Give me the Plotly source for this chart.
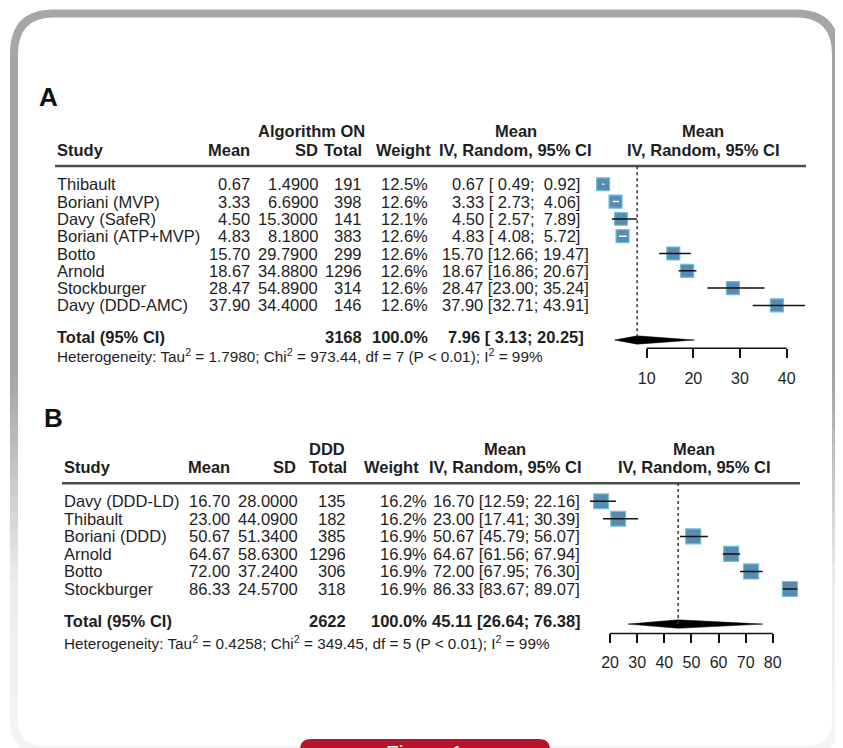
import plotly.graph_objects as go

# ---------------- data ----------------
studies_a = ["Thibault", "Boriani (MVP)", "Davy (SafeR)", "Boriani (ATP+MVP)",
             "Botto", "Arnold", "Stockburger", "Davy (DDD-AMC)"]
mean_a = [0.67, 3.33, 4.50, 4.83, 15.70, 18.67, 28.47, 37.90]
sd_a = [1.4900, 6.6900, 15.3000, 8.1800, 29.7900, 34.8800, 54.8900, 34.4000]
n_a = [191, 398, 141, 383, 299, 1296, 314, 146]
w_a = [12.5, 12.6, 12.1, 12.6, 12.6, 12.6, 12.6, 12.6]
lo_a = [0.49, 2.73, 2.57, 4.08, 12.66, 16.86, 23.00, 32.71]
hi_a = [0.92, 4.06, 7.89, 5.72, 19.47, 20.67, 35.24, 43.91]
total_a = [3168, 100.0, 7.96, 3.13, 20.25]          # N, weight, mean, lo, hi
het_a = ["1.7980", "973.44", "7", "0.01", "99"]     # tau2, chi2, df, p, I2
ticks_a = [10, 20, 30, 40]
group_a = "Algorithm ON"

studies_b = ["Davy (DDD-LD)", "Thibault", "Boriani (DDD)", "Arnold", "Botto", "Stockburger"]
mean_b = [16.70, 23.00, 50.67, 64.67, 72.00, 86.33]
sd_b = [28.0000, 44.0900, 51.3400, 58.6300, 37.2400, 24.5700]
n_b = [135, 182, 385, 1296, 306, 318]
w_b = [16.2, 16.2, 16.9, 16.9, 16.9, 16.9]
lo_b = [12.59, 17.41, 45.79, 61.56, 67.95, 83.67]
hi_b = [22.16, 30.39, 56.07, 67.94, 76.30, 89.07]
total_b = [2622, 100.0, 45.11, 26.64, 76.38]
het_b = ["0.4258", "349.45", "5", "0.01", "99"]
ticks_b = [20, 30, 40, 50, 60, 70, 80]
group_b = "DDD"

col_headers = ["Study", "Mean", "SD", "Total", "Weight", "Mean", "IV, Random, 95% CI"]

# ---------------- layout helpers ----------------
W, H = 843, 748
OFF = 8          # page body margin offset
FONT = "Liberation Sans, Arial, Helvetica, sans-serif"
TXT = "#1e1e1e"
NB = "\u00a0"
FS = 16.5


def px(x):
    return (x - OFF) / W


def py(y):
    return 1 - (y - OFF) / H


def P(x, y):
    return f"{px(x):.5f},{py(y):.5f}"


fig = go.Figure()
annotations = []
shapes = []


def ann(text, x, y, xanchor="left", yref="paper", size=FS, bold=False, color=TXT):
    if bold:
        text = f"<b>{text}</b>"
    annotations.append(dict(
        text=text, x=px(x), y=(py(y) if yref == "paper" else y),
        xref="paper", yref=yref, xanchor=xanchor, yanchor="middle",
        showarrow=False, font=dict(family=FONT, size=size, color=color)))


def ci_str(m, l, h):
    s = f"{m:.2f} [{l:5.2f}; {h:5.2f}]"
    return s.replace(" ", NB)


def het_str(h):
    return (f"Heterogeneity: Tau<sup>2</sup> = {h[0]}; Chi<sup>2</sup> = {h[1]}, "
            f"df = {h[2]} (P &lt; {h[3]}); I<sup>2</sup> = {h[4]}%")


def panel(letter, letter_pos, studies, mean, sd, n, w, lo, hi, total, het, ticks, group,
          xref, yr, cols, hdr, line_y, line_x, het_y, scale, box_k):
    ann(letter, letter_pos[0], letter_pos[1], bold=True, size=26, color="#111111")
    x_study, x_mean, x_sd, x_tot, x_w, x_ci = cols
    h_mean, h_sd, h_tot, h_w, h_ci, h_plot, x_group = hdr
    y1, y2 = line_y[0], line_y[1]
    # headers
    ann(group, x_group, y1, "center", bold=True)
    ann(col_headers[5], h_ci, y1, "center", bold=True)
    ann(col_headers[5], h_plot, y1, "center", bold=True)
    ann(col_headers[0], x_study, y2, "left", bold=True)
    ann(col_headers[1], h_mean, y2, "right", bold=True)
    ann(col_headers[2], h_sd, y2, "right", bold=True)
    ann(col_headers[3], h_tot, y2, "right", bold=True)
    ann(col_headers[4], h_w, y2, "right", bold=True)
    ann(col_headers[6], h_ci, y2, "center", bold=True)
    ann(col_headers[6], h_plot, y2, "center", bold=True)
    shapes.append(dict(type="line", xref="paper", yref="paper",
                       x0=px(line_x[0]), x1=px(line_x[1]), y0=py(line_y[2]), y1=py(line_y[2]),
                       line=dict(color="#4d4d4d", width=2.5)))
    rows = list(range(len(studies)))
    for i in rows:
        ann(studies[i], x_study, i, "left", yref=yr)
        ann(f"{mean[i]:.2f}", x_mean, i, "right", yref=yr)
        ann(f"{sd[i]:.4f}", x_sd, i, "right", yref=yr)
        ann(f"{n[i]}", x_tot, i, "right", yref=yr)
        ann(f"{w[i]:.1f}%", x_w, i, "right", yref=yr)
        ann(ci_str(mean[i], lo[i], hi[i]), x_ci, i, "center", yref=yr)
    trow = len(studies) + 1
    ty = trow - 0.15
    ann("Total (95% CI)", x_study, ty, "left", yref=yr, bold=True)
    ann(f"{total[0]}", x_tot, ty, "right", yref=yr, bold=True)
    ann(f"{total[1]:.1f}%", x_w, ty, "right", yref=yr, bold=True)
    ann(ci_str(total[2], total[3], total[4]), x_ci, ty, "center", yref=yr, bold=True)
    ann(het_str(het), x_study, het_y, "left", size=15.3)

    # dotted line at pooled estimate
    shapes.append(dict(type="line", xref=xref, yref=yr, x0=total[2], x1=total[2],
                       y0=-1.05, y1=trow, line=dict(color="#333333", width=1.5, dash="dot")))
    # axis baseline between first and last tick
    shapes.append(dict(type="line", xref=xref, yref=yr + " domain", x0=ticks[0], x1=ticks[-1],
                       y0=0, y1=0, line=dict(color="#111111", width=1.5)))
    sizes = [box_k * (wi ** 0.5) for wi in w]
    fig.add_trace(go.Scatter(
        x=mean, y=rows, mode="markers", xaxis=xref, yaxis=yr,
        marker=dict(symbol="square", size=sizes, color="#125a92",
                    line=dict(color="#36a4c8", width=1.2)),
        hoverinfo="skip"))
    bx, by, wx, wy = [], [], [], []
    for i in rows:
        inside = (hi[i] - lo[i]) * scale < 0.8 * sizes[i]
        tx, tyy = (wx, wy) if inside else (bx, by)
        tx += [lo[i], hi[i], None]
        tyy += [i, i, None]
    fig.add_trace(go.Scatter(x=bx, y=by, mode="lines", xaxis=xref, yaxis=yr,
                             line=dict(color="#111111", width=1.5), hoverinfo="skip"))
    fig.add_trace(go.Scatter(x=wx, y=wy, mode="lines", xaxis=xref, yaxis=yr,
                             line=dict(color="#ffffff", width=1.5), hoverinfo="skip"))
    hd = 0.24
    fig.add_trace(go.Scatter(
        x=[total[3], total[2], total[4], total[2], total[3]],
        y=[trow, trow - hd, trow, trow + hd, trow],
        mode="lines", fill="toself", fillcolor="#000000",
        line=dict(color="#000000", width=0.5), xaxis=xref, yaxis=yr, hoverinfo="skip"))


# Panel A geometry: value 0 at 600px, 4.667 px/unit; row0 at 184.3px, 17.3 px/row
sa, za, ra0, ra = 4.667, 600.0, 184.3, 17.3
xa_rng = [-1, 45]
ya_rng = [9.48, -1.5]
# Panel B geometry: value 0 at 555.8px, 2.712 px/unit; row0 at 501.3px, 17.54 px/row
sb, zb, rb0, rb = 2.712, 555.8, 501.3, 17.54
xb_rng = [8, 96]
yb_rng = [7.53, -1.5]

panel("A", (37, 97), studies_a, mean_a, sd_a, n_a, w_a, lo_a, hi_a, total_a, het_a,
      ticks_a, group_a, "x", "y",
      cols=(55, 252, 320, 364, 430, 516),
      hdr=(252, 320, 364, 433, 516, 703, 311),
      line_y=(131, 150, 166), line_x=(55, 806), het_y=355, scale=sa, box_k=3.66)
panel("B", (42, 418), studies_b, mean_b, sd_b, n_b, w_b, lo_b, hi_b, total_b, het_b,
      ticks_b, group_b, "x2", "y2",
      cols=(61.7, 232, 300, 348, 429, 506),
      hdr=(232, 298, 349, 421, 505, 694, 327),
      line_y=(449, 467, 483.3), line_x=(62, 800), het_y=642, scale=sb, box_k=3.66)


def dom_x(rng, zero, s):
    return [px(zero + rng[0] * s), px(zero + rng[1] * s)]


def dom_y(rng, r0, r):
    return sorted([py(r0 + rng[0] * r), py(r0 + rng[1] * r)])


# ---------------- frame decoration ----------------
GRAY_TOP = (166, 166, 169)
GRAY_MID = (236, 236, 238)
GRAY_BOT = (244, 244, 246)


def col_at(y):
    if y <= 380:
        c = GRAY_TOP
    elif y <= 580:
        t = (y - 380) / 200
        c = tuple(GRAY_TOP[k] + (GRAY_MID[k] - GRAY_TOP[k]) * t for k in range(3))
    else:
        t = min(1, (y - 580) / 140)
        c = tuple(GRAY_MID[k] + (GRAY_BOT[k] - GRAY_MID[k]) * t for k in range(3))
    return "rgb(%d,%d,%d)" % tuple(int(v) for v in c)


fw = 8
shapes.append(dict(type="path", xref="paper", yref="paper",
                   path=f"M {P(14, 54)} Q {P(14, 13.5)} {P(54, 13.5)} L {P(796, 13.5)} "
                        f"Q {P(836, 13.5)} {P(836, 54)}",
                   line=dict(color=col_at(0), width=fw)))
y0 = 54
while y0 < 720:
    y1 = min(y0 + 17, 720)
    c = col_at((y0 + y1) / 2)
    for xx in (14, 836):
        shapes.append(dict(type="line", xref="paper", yref="paper",
                           x0=px(xx), x1=px(xx), y0=py(y0 - 0.5), y1=py(y1 + 0.5),
                           line=dict(color=c, width=fw)))
    y0 = y1
shapes.append(dict(type="path", xref="paper", yref="paper",
                   path=f"M {P(14, 720)} Q {P(14, 750)} {P(44, 750)} L {P(806, 750)} "
                        f"Q {P(836, 750)} {P(836, 720)}",
                   line=dict(color=col_at(740), width=fw)))
# red tab
shapes.append(dict(type="path", xref="paper", yref="paper",
                   path=f"M {P(300, 770)} L {P(300, 750)} Q {P(300, 739)} {P(311, 739)} "
                        f"L {P(539, 739)} Q {P(550, 739)} {P(550, 750)} L {P(550, 770)} Z",
                   fillcolor="#b5162f", line=dict(width=0)))
annotations.append(dict(text="Figure 1", x=px(424), y=py(752), xref="paper", yref="paper",
                        xanchor="center", yanchor="middle", showarrow=False,
                        font=dict(family=FONT, size=21, color="#ffffff")))

axis_common = dict(showgrid=False, zeroline=False, showline=False, ticks="outside",
                   ticklen=9, tickwidth=1.5, tickcolor="#111111", fixedrange=True,
                   tickfont=dict(family=FONT, size=16, color=TXT))

fig.update_layout(
    width=W, height=H, margin=dict(l=0, r=0, t=0, b=0),
    paper_bgcolor="#ffffff", plot_bgcolor="rgba(0,0,0,0)", showlegend=False,
    xaxis=dict(domain=dom_x(xa_rng, za, sa), range=xa_rng, tickvals=ticks_a,
               anchor="y", ticklabelstandoff=6, **axis_common),
    yaxis=dict(domain=dom_y(ya_rng, ra0, ra), range=ya_rng, visible=False,
               fixedrange=True, anchor="x"),
    xaxis2=dict(domain=dom_x(xb_rng, zb, sb), range=xb_rng, tickvals=ticks_b,
                anchor="y2", ticklabelstandoff=5, **axis_common),
    yaxis2=dict(domain=dom_y(yb_rng, rb0, rb), range=yb_rng, visible=False,
                fixedrange=True, anchor="x2"),
    annotations=annotations, shapes=shapes,
)

fig.write_html("out.html")
